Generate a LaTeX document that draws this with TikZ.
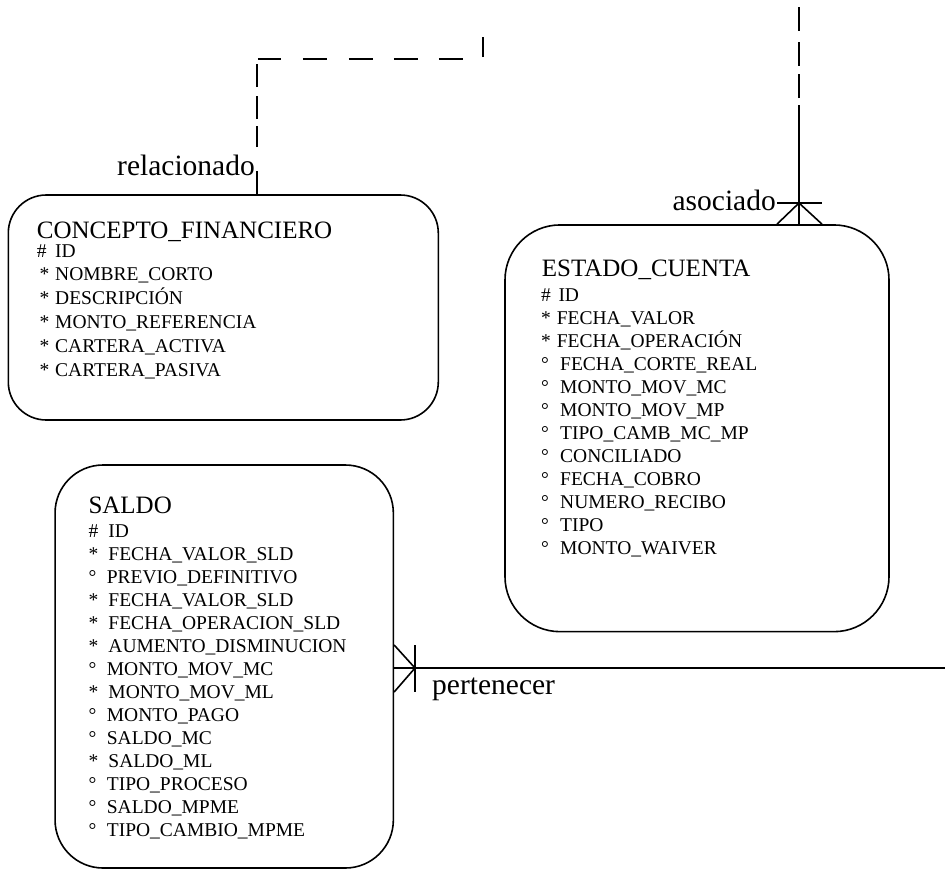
\documentclass[tikz,border=0pt]{standalone}
\usepackage{fontspec}
\setmainfont{Liberation Serif}
\usetikzlibrary{calc}
\newcommand{\lead}[2]{\makebox[#1][l]{#2}}
\begin{document}
\begin{tikzpicture}[x=1pt,y=-1pt,
  lw/.style={line width=1.6pt},
  entity/.style={draw, lw, rounded corners=#1, inner sep=0pt},
  ttl/.style={anchor=base west, inner sep=0pt, font=\fontsize{25}{25}\selectfont},
  attr/.style={anchor=base west, inner sep=0pt, font=\fontsize{19.5}{20}\selectfont},
  rel/.style={inner sep=0pt, font=\fontsize{29.5}{29.5}\selectfont},
  link/.style={lw}
]
\useasboundingbox (0,0) rectangle (945,871);

% entity boxes
\node[entity=38pt, minimum width=430pt, minimum height=225pt] (cf) at (223.3,307.5) {};
\node[entity=55pt, minimum width=384pt, minimum height=406.7pt] (ec) at (697,428.3) {};
\node[entity=48pt, minimum width=338.3pt, minimum height=403pt] (sd) at (224.2,666.5) {};

% titles
\node[ttl] (cft) at (36.7,238) {CONCEPTO\_FINANCIERO};
\node[ttl] (ect) at (541.7,276.7) {ESTADO\_CUENTA};
\node[ttl] (sdt) at (88.3,513.3) {SALDO};

% CONCEPTO_FINANCIERO attributes
\foreach \x/\t [count=\i] in {
  36.7/{\lead{18.3pt}{\#}ID},
  39.5/{\lead{15.5pt}{*}NOMBRE\_CORTO},
  39.5/{\lead{15.5pt}{*}DESCRIPCIÓN},
  39.5/{\lead{15.5pt}{*}MONTO\_REFERENCIA},
  39.5/{\lead{15.5pt}{*}CARTERA\_ACTIVA},
  39.5/{\lead{15.5pt}{*}CARTERA\_PASIVA}}
  \node[attr] (cfa\i) at (\x,{257+23.8*(\i-1)}) {\t};

% ESTADO_CUENTA attributes
\foreach \t [count=\i] in {
  {\lead{17.3pt}{\#}ID},
  {\lead{15.7pt}{*}FECHA\_VALOR},
  {\lead{15.7pt}{*}FECHA\_OPERACIÓN},
  {\lead{19pt}{°}FECHA\_CORTE\_REAL},
  {\lead{19pt}{°}MONTO\_MOV\_MC},
  {\lead{19pt}{°}MONTO\_MOV\_MP},
  {\lead{19pt}{°}TIPO\_CAMB\_MC\_MP},
  {\lead{19pt}{°}CONCILIADO},
  {\lead{19pt}{°}FECHA\_COBRO},
  {\lead{19pt}{°}NUMERO\_RECIBO},
  {\lead{19pt}{°}TIPO},
  {\lead{19pt}{°}MONTO\_WAIVER}}
  \node[attr] (eca\i) at (541,{301+23*(\i-1)}) {\t};

% SALDO attributes
\foreach \t [count=\i] in {
  {\lead{20pt}{\#}ID},
  {\lead{20pt}{*}FECHA\_VALOR\_SLD},
  {\lead{18.4pt}{°}PREVIO\_DEFINITIVO},
  {\lead{20pt}{*}FECHA\_VALOR\_SLD},
  {\lead{20pt}{*}FECHA\_OPERACION\_SLD},
  {\lead{20pt}{*}AUMENTO\_DISMINUCION},
  {\lead{18.4pt}{°}MONTO\_MOV\_MC},
  {\lead{20pt}{*}MONTO\_MOV\_ML},
  {\lead{18.4pt}{°}MONTO\_PAGO},
  {\lead{18.4pt}{°}SALDO\_MC},
  {\lead{20pt}{*}SALDO\_ML},
  {\lead{18.4pt}{°}TIPO\_PROCESO},
  {\lead{18.4pt}{°}SALDO\_MPME},
  {\lead{18.4pt}{°}TIPO\_CAMBIO\_MPME}}
  \node[attr] (sda\i) at (88.3,{537.3+23*(\i-1)}) {\t};

% relacionado
\coordinate (rx) at (257,0);
\coordinate (rbend) at (483,59);
\coordinate (rend) at (483,37);
\draw[link, dash pattern=on 23pt off 24pt on 21pt off 7pt on 23pt off 9pt on 23pt off 6pt on 23pt off 22pt on 24pt off 22pt on 24pt off 21pt on 24pt off 21pt on 24pt off 22pt on 23pt off 60pt]
  (cf.north -| rx) |- (rbend) -- (rend);
\node[rel, anchor=base east] (rl) at (255,175) {relacionado};

% asociado
\coordinate (ax) at (799,7.3);
\coordinate (atip) at (799,203);
\draw[link, dash pattern=on 119pt off 7pt on 24pt off 8.3pt on 23.4pt off 11.6pt on 24.4pt off 40pt]
  (ec.north -| ax) -- (ax);
\draw[link] ($(ec.north -| ax)+(-22,0)$) -- (atip) -- ($(ec.north -| ax)+(23,0)$);
\draw[link] ($(atip)+(-22,0)$) -- ($(atip)+(23,0)$);
\node[rel, anchor=base east] (al) at (776,210) {asociado};

% pertenecer
\coordinate (pend) at (945,668);
\coordinate (ptip) at (415,668);
\draw[link] (sd.east |- pend) -- (pend);
\draw[link] ($(sd.east |- pend)+(0,-23)$) -- (ptip) -- ($(sd.east |- pend)+(0,24)$);
\draw[link] ($(ptip)+(0,-23)$) -- ($(ptip)+(0,24)$);
\node[rel, anchor=base west] (pl) at (432,694) {pertenecer};
\end{tikzpicture}
\end{document}
